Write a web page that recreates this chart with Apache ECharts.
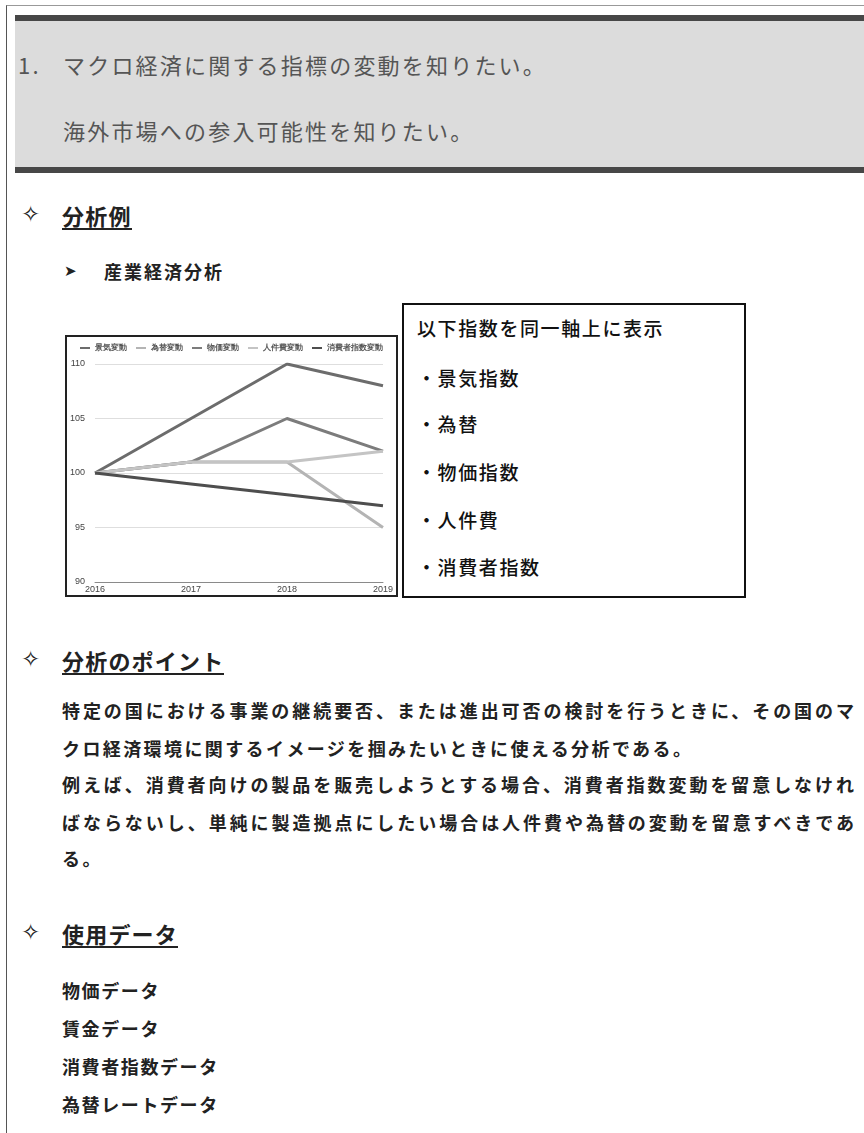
<!DOCTYPE html>
<html lang="ja">
<head>
<meta charset="utf-8">
<script src="https://cdn.jsdelivr.net/npm/echarts@6/dist/echarts.min.js"></script>
<style>
  html, body { margin: 0; padding: 0; background: #fff; }
  body { width: 864px; height: 1133px; position: relative; overflow: hidden;
         font-family: "Noto Sans CJK JP", "Noto Sans", sans-serif; color: #222; }
  .abs { position: absolute; white-space: nowrap; }
  #frame { left: 6px; top: 5px; width: 900px; height: 1200px;
           border-left: 1px solid #555; border-top: 1px solid #999; }
  .bar { left: 15px; width: 860px; height: 6px; background: #474747; }
  #headBox { left: 15px; top: 21px; width: 860px; height: 146px; background: #dcdcdc; }
  .head { font-size: 22px; line-height: 30px; color: #555; letter-spacing: 2.2px; }
  .mark { font-family: "DejaVu Sans", sans-serif; color: #222; }
  .h2 { font-size: 22px; line-height: 26px; font-weight: bold; color: #222;
        border-bottom: 2px solid #222; letter-spacing: 1.2px; }
  .para { font-size: 18px; line-height: 24px; font-weight: bold; color: #222;
          letter-spacing: 2.4px; }
  .full { width: 792px; text-align: justify; text-align-last: justify; letter-spacing: 0; }
  #chartWrap { left: 65px; top: 335px; width: 333px; height: 262px;
               border: 2px solid #222; box-sizing: border-box; background: #fff; }
  #chart { width: 100%; height: 100%; }
  #note { left: 402px; top: 303px; width: 344px; height: 295px; box-sizing: border-box;
          border: 2px solid #111; background: #fff; }
  .note { font-size: 19px; line-height: 26px; color: #111; letter-spacing: 1.6px; font-weight: 500; }
</style>
</head>
<body>
<div id="frame" class="abs"></div>
<div class="abs bar" style="top:15px"></div>
<div id="headBox" class="abs"></div>
<div class="abs bar" style="top:167px"></div>
<div class="abs head" style="left:18px; top:49px;">1.</div>
<div class="abs head" style="left:63px; top:49px;">マクロ経済に関する指標の変動を知りたい。</div>
<div class="abs head" style="left:63px; top:115px;">海外市場への参入可能性を知りたい。</div>

<div class="abs mark" style="left:21px; top:200px; font-size:23px; line-height:28px;">✧</div>
<div class="abs h2" style="left:62px; top:202px;">分析例</div>
<div class="abs mark" style="left:64px; top:261px; font-size:15px; line-height:20px;">➤</div>
<div class="abs para" style="left:104px; top:259px; letter-spacing:2px;">産業経済分析</div>

<div id="chartWrap" class="abs"><div id="chart"></div></div>
<div id="note" class="abs"></div>
<div class="abs note" style="left:417px; top:315px;">以下指数を同一軸上に表示</div>
<div class="abs note" style="left:417px; top:365px;">・景気指数</div>
<div class="abs note" style="left:417px; top:411px;">・為替</div>
<div class="abs note" style="left:417px; top:459px;">・物価指数</div>
<div class="abs note" style="left:417px; top:507px;">・人件費</div>
<div class="abs note" style="left:417px; top:554px;">・消費者指数</div>

<div class="abs mark" style="left:21px; top:645px; font-size:23px; line-height:28px;">✧</div>
<div class="abs h2" style="left:62px; top:647px;">分析のポイント</div>
<div class="abs para full" style="left:62px; top:698px;">特定の国における事業の継続要否、または進出可否の検討を行うときに、その国のマ</div>
<div class="abs para" style="left:62px; top:736px;">クロ経済環境に関するイメージを掴みたいときに使える分析である。</div>
<div class="abs para full" style="left:62px; top:772px;">例えば、消費者向けの製品を販売しようとする場合、消費者指数変動を留意しなけれ</div>
<div class="abs para full" style="left:62px; top:810px;">ばならないし、単純に製造拠点にしたい場合は人件費や為替の変動を留意すべきであ</div>
<div class="abs para" style="left:62px; top:846px;">る。</div>

<div class="abs mark" style="left:21px; top:918px; font-size:23px; line-height:28px;">✧</div>
<div class="abs h2" style="left:62px; top:920px;">使用データ</div>
<div class="abs para" style="left:62px; top:978px; letter-spacing:1.6px;">物価データ</div>
<div class="abs para" style="left:62px; top:1016px; letter-spacing:1.6px;">賃金データ</div>
<div class="abs para" style="left:62px; top:1054px; letter-spacing:1.6px;">消費者指数データ</div>
<div class="abs para" style="left:62px; top:1092px; letter-spacing:1.6px;">為替レートデータ</div>

<script>
// データ（2016年を100とした指数）
const years = ['2016', '2017', '2018', '2019'];
const seriesNames = ['景気変動', '為替変動', '物価変動', '人件費変動', '消費者指数変動'];
const keikiData = [100, 105, 110, 108];
const kawaseData = [100, 101, 101, 95];
const bukkaData = [100, 101, 105, 102];
const jinkenhiData = [100, 101, 101, 102];
const shohishaData = [100, 99, 98, 97];
const yTicks = [90, 95, 100, 105, 110];

const allData = [keikiData, kawaseData, bukkaData, jinkenhiData, shohishaData];
const lineColors = ['#6c6c6c', '#b4b4b4', '#7c7c7c', '#c4c4c4', '#4e4e4e'];

const chart = echarts.init(document.getElementById('chart'));
chart.setOption({
  animation: false,
  legend: {
    top: 2,
    left: 'center',
    icon: 'rect',
    itemWidth: 10,
    itemHeight: 2,
    itemGap: 9,
    textStyle: { fontSize: 8, color: '#555', fontWeight: 'bold' },
    data: seriesNames
  },
  grid: { left: 24, right: 9, top: 27, bottom: 13 },
  xAxis: {
    type: 'category',
    boundaryGap: false,
    data: years,
    axisLine: { lineStyle: { color: '#8a8a8a', width: 1 } },
    axisTick: { show: false },
    axisLabel: { fontSize: 9, color: '#444', margin: 3 }
  },
  yAxis: {
    type: 'value',
    min: yTicks[0],
    max: yTicks[yTicks.length - 1],
    interval: 5,
    axisLine: { show: false },
    axisTick: { show: false },
    axisLabel: { fontSize: 9, color: '#444', margin: 10 },
    splitLine: { lineStyle: { color: '#dedede' } }
  },
  series: seriesNames.map((name, i) => ({
    name: name,
    type: 'line',
    data: allData[i],
    symbol: 'none',
    color: lineColors[i],
    lineStyle: { width: 3, color: lineColors[i] }
  }))
});
</script>
</body>
</html>
